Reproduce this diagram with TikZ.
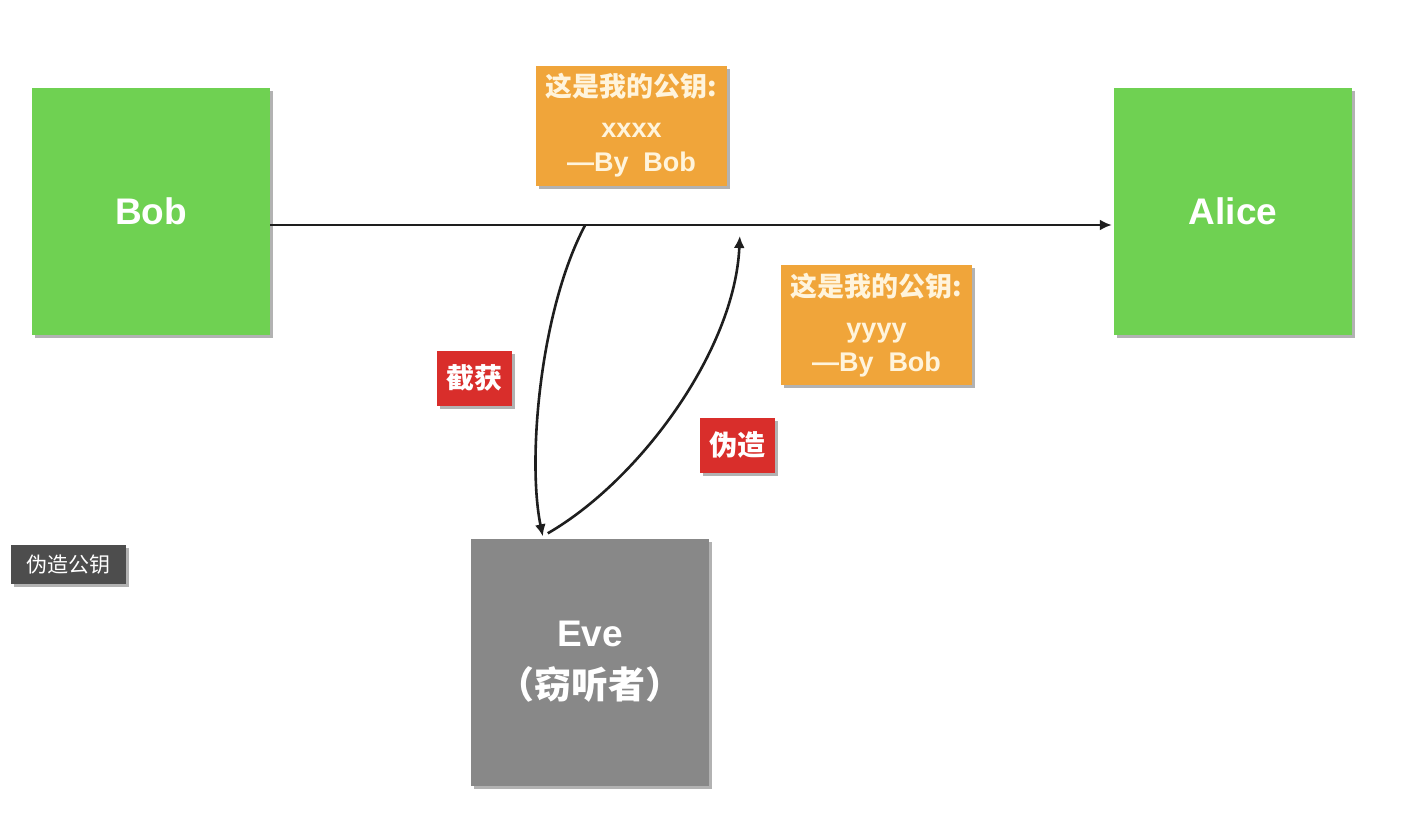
\documentclass[tikz,border=0pt]{standalone}
\usepackage{fontspec}
\setmainfont{Liberation Sans}
\newfontfamily\cjk{Noto Sans CJK SC}
\usetikzlibrary{arrows.meta,shadows}
\definecolor{boxgreen}{HTML}{6FD152}
\definecolor{boxorange}{HTML}{F0A53A}
\definecolor{boxred}{HTML}{D92E2B}
\definecolor{boxgray}{HTML}{888888}
\definecolor{tipgray}{HTML}{4D4D4D}
\definecolor{cream}{HTML}{FFF4DC}
\definecolor{linecol}{HTML}{1E1E1E}
\tikzset{
  shad/.style={drop shadow={shadow xshift=3pt,shadow yshift=-3pt,opacity=0.3,fill=black}},
  bigbox/.style={shad,minimum width=238pt,minimum height=247pt,inner sep=0pt,text=white,font=\fontsize{37}{44}\selectfont\bfseries,align=center},
  greenbox/.style={bigbox,fill=boxgreen},
  evebox/.style={bigbox,fill=boxgray},
  keybox/.style={shad,fill=boxorange,minimum width=191pt,minimum height=120pt,inner sep=0pt,text=cream,font=\fontsize{27}{34}\selectfont\bfseries,align=center},
  redbox/.style={shad,fill=boxred,minimum width=75pt,minimum height=55pt,inner sep=0pt,text=white,font=\fontsize{28}{33}\selectfont\cjk\bfseries},
  tipbox/.style={shad,fill=tipgray,minimum width=115pt,minimum height=39pt,inner sep=0pt,text=white,font=\fontsize{21}{25}\selectfont\cjk},
  conn/.style={draw=linecol,line width=2.6pt,-{Latex[length=12pt,width=11pt]}}
}
\begin{document}
\begin{tikzpicture}[x=1pt,y=-1pt]
\useasboundingbox (0,0) rectangle (1412,822);
\fill[white] (0,0) rectangle (1412,822);
\node[greenbox] (bob) at (151,211.5) {Bob};
\node[greenbox] (alice) at (1233,211.5) {Alice};
\node[evebox] (eve) at (590,662) {Eve\\[8pt]{\cjk （窃听者）}};
\node[keybox] (k1) at (631.5,125.5) {{\cjk 这是我的公钥:}\\[7pt]xxxx\\—By\ \ Bob};
\node[keybox] (k2) at (876.5,325) {{\cjk 这是我的公钥:}\\[7pt]yyyy\\—By\ \ Bob};
\node[redbox] (r1) at (474.5,378) {截获};
\node[redbox] (r2) at (737,445) {伪造};
\node[tipbox] (t1) at (68.5,564.5) {伪造公钥};
\path (bob.east) ++(0,13.5) coordinate (ls);
\path (alice.west) ++(-2,13.5) coordinate (le);
\path (bob.east) ++(315,13.5) coordinate (i1);
\path (eve.north west) ++(72,-2) coordinate (e1);
\path (eve.north west) ++(77,-5) coordinate (e2);
\path (alice.west) ++(-374,24.5) coordinate (f1);
\draw[conn] (ls) -- (le);
\draw[conn] (i1) .. controls (540,310) and (527,460) .. (e1);
\draw[conn] (e2) .. controls (640,480) and (735,350) .. (f1);
\end{tikzpicture}
\end{document}
